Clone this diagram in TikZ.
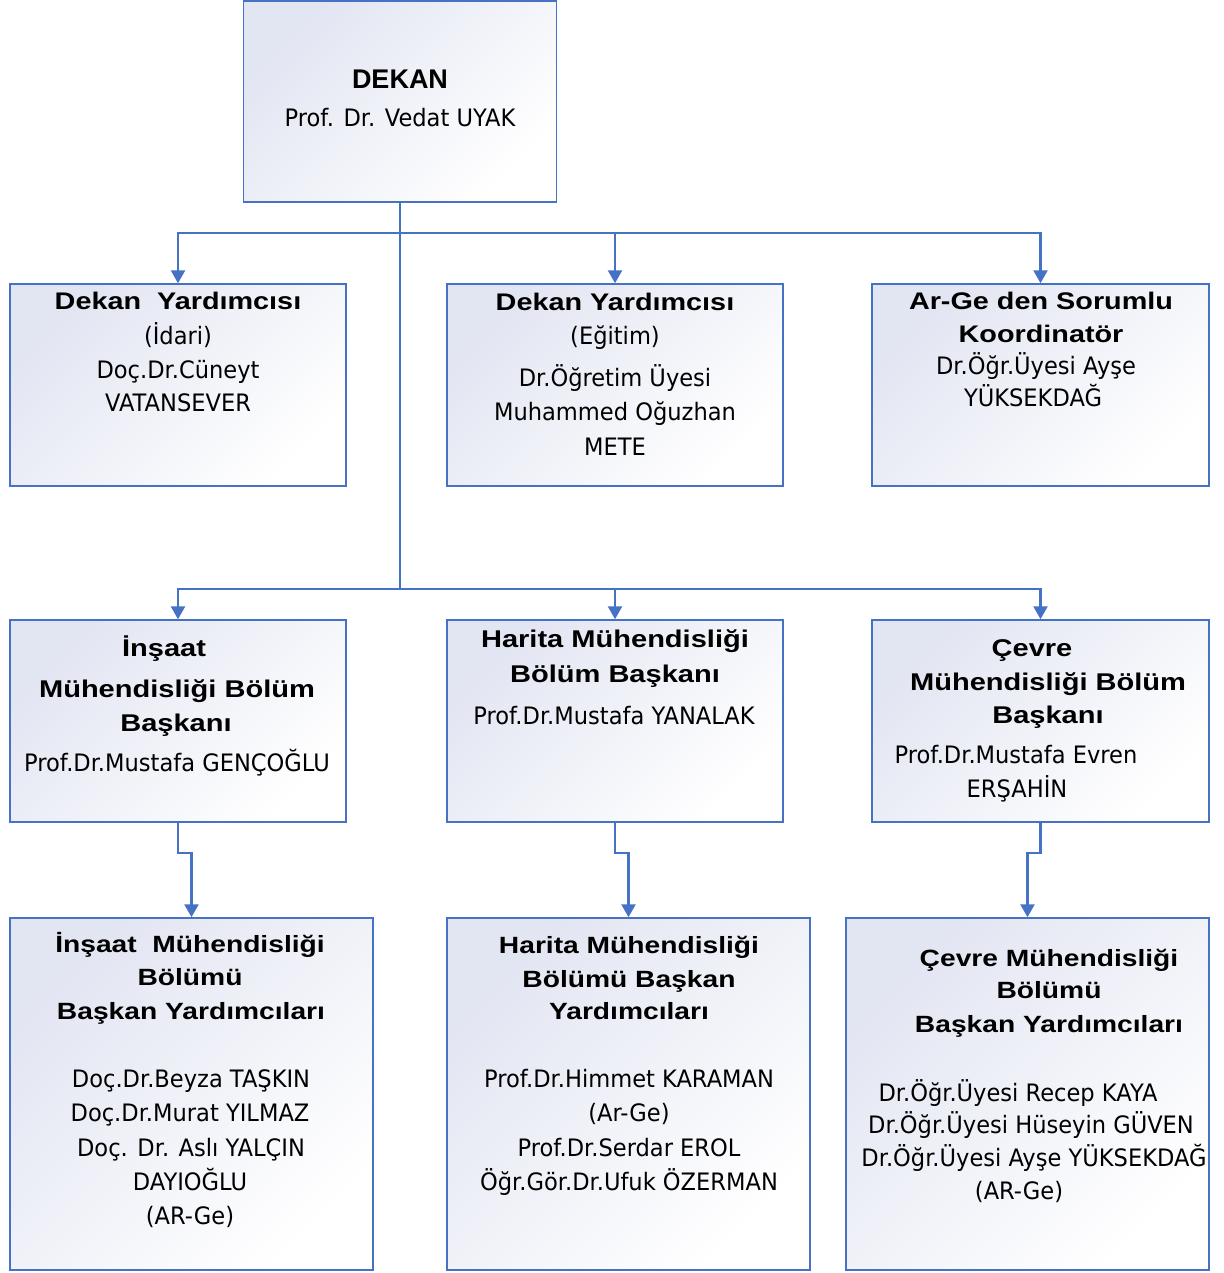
\documentclass[tikz,border=0pt]{standalone}
\usepackage{fontspec}
\setmainfont{DejaVu Sans}[FakeStretch=0.94]
\newfontfamily\hbf{Liberation Sans}[FakeStretch=1.2]
\newfontfamily\dkf{Liberation Sans}
\usetikzlibrary{arrows.meta}
\definecolor{ob}{HTML}{4472C4}
\definecolor{lav}{HTML}{E2E5F2}
\tikzset{
  box/.style={draw=ob, line width=1.5pt, top color=lav, bottom color=white, shading angle=45, inner sep=0},
  ln/.style={draw=ob, line width=2.5pt},
  arr/.style={ln, -{Triangle[width=14pt,length=13pt]}},
  rg/.style={font=\fontsize{24}{28}\selectfont, anchor=base, inner sep=0},
  hA/.style={font={\hbf\bfseries\fontsize{24}{28}\selectfont}, anchor=base, inner sep=0},
  hB/.style={font={\hbf\bfseries\fontsize{24.2}{29}\selectfont}, anchor=base, inner sep=0},
  hC/.style={font={\hbf\bfseries\fontsize{23.5}{28}\selectfont}, anchor=base, inner sep=0},
  hD/.style={font={\dkf\bfseries\fontsize{27}{31}\selectfont}, anchor=base, inner sep=0},
}
\begin{document}
\begin{tikzpicture}[x=1pt,y=-1pt]
\useasboundingbox (0,0) rectangle (1223,1273);
% boxes
\node[box, minimum width=313pt, minimum height=201pt] (dekan) at (400,101.5) {};
\node[box, minimum width=336pt, minimum height=202pt] (dy1) at (178,385) {};
\node[box, minimum width=336pt, minimum height=202pt] (dy2) at (615,385) {};
\node[box, minimum width=337pt, minimum height=202pt] (arge) at (1040.5,385) {};
\node[box, minimum width=336pt, minimum height=202pt] (ib) at (178,721) {};
\node[box, minimum width=336pt, minimum height=202pt] (hb) at (615,721) {};
\node[box, minimum width=337pt, minimum height=202pt] (cb) at (1040.5,721) {};
\node[box, minimum width=363pt, minimum height=352pt] (iby) at (191.5,1094) {};
\node[box, minimum width=363pt, minimum height=352pt] (hby) at (628.5,1094) {};
\node[box, minimum width=363pt, minimum height=352pt] (cby) at (1027.5,1094) {};
% connectors
\coordinate (j1) at (400,233);
\coordinate (j2) at (400,589);
\draw[ln] (dekan.south) -- (j2);
\draw[arr] (j1) -| (dy1.north);
\draw[arr] (j1) -| (dy2.north);
\draw[arr] (j1) -| (arge.north);
\draw[arr] (j2) -| (ib.north);
\draw[arr] (j2) -| (hb.north);
\draw[arr] (j2) -| (cb.north);
\draw[arr] (ib.south) -- ++(0,30) -| (iby.north);
\draw[arr] (hb.south) -- ++(0,30) -| (hby.north);
\draw[arr] (cb.south) -- ++(0,30) -| (cby.north);
% texts: dekan
\node[hD] (t01) at (400,89) {DEKAN};
\node[rg] (t02) at (400,127) {Prof. Dr. Vedat UYAK};
% dy1
\node[hA] (t11) at (178,309) {Dekan\ \ Yardımcısı};
\node[rg] (t12) at (178,344) {(İdari)};
\node[rg] (t13) at (178,378) {Doç.Dr.Cüneyt};
\node[rg] (t14) at (178,411) {VATANSEVER};
% dy2
\node[hA] (t21) at (615,310) {Dekan Yardımcısı};
\node[rg] (t22) at (615,344) {(Eğitim)};
\node[rg] (t23) at (615,386) {Dr.Öğretim Üyesi};
\node[rg] (t24) at (615,420) {Muhammed Oğuzhan};
\node[rg] (t25) at (615,455) {METE};
% arge
\node[hA] (t31) at (1041,309) {Ar-Ge den Sorumlu};
\node[hA] (t32) at (1041,342) {Koordinatör};
\node[rg] (t33) at (1036,374) {Dr.Öğr.Üyesi Ayşe};
\node[rg] (t34) at (1033,406) {YÜKSEKDAĞ};
% ib
\node[hB] (t41) at (164,656) {İnşaat};
\node[hB] (t42) at (177,697) {Mühendisliği Bölüm};
\node[hB] (t43) at (176,731) {Başkanı};
\node[rg] (t44) at (177,771) {Prof.Dr.Mustafa GENÇOĞLU};
% hb
\node[hB] (t51) at (615,647) {Harita Mühendisliği};
\node[hB] (t52) at (615,682) {Bölüm Başkanı};
\node[rg] (t53) at (614,724) {Prof.Dr.Mustafa YANALAK};
% cb
\node[hB] (t61) at (1032,656) {Çevre};
\node[hB] (t62) at (1048,690) {Mühendisliği Bölüm};
\node[hB] (t63) at (1048,723) {Başkanı};
\node[rg] (t64) at (1016,763) {Prof.Dr.Mustafa Evren};
\node[rg] (t65) at (1017,797) {ERŞAHİN};
% iby
\node[hC] (t71) at (190,952) {İnşaat\ \ Mühendisliği};
\node[hC] (t72) at (190,985) {Bölümü};
\node[hC] (t73) at (191,1019) {Başkan Yardımcıları};
\node[rg] (t74) at (191,1087) {Doç.Dr.Beyza TAŞKIN};
\node[rg] (t75) at (190,1121) {Doç.Dr.Murat YILMAZ};
\node[rg] (t76) at (191,1156) {Doç. Dr. Aslı YALÇIN};
\node[rg] (t77) at (190,1190) {DAYIOĞLU};
\node[rg] (t78) at (190,1224) {(AR-Ge)};
% hby
\node[hC] (t81) at (629,953) {Harita Mühendisliği};
\node[hC] (t82) at (629,987) {Bölümü Başkan};
\node[hC] (t83) at (629,1019) {Yardımcıları};
\node[rg] (t84) at (629,1087) {Prof.Dr.Himmet KARAMAN};
\node[rg] (t85) at (629,1121) {(Ar-Ge)};
\node[rg] (t86) at (629,1156) {Prof.Dr.Serdar EROL};
\node[rg] (t87) at (629,1190) {Öğr.Gör.Dr.Ufuk ÖZERMAN};
% cby
\node[hC] (t91) at (1049,966) {Çevre Mühendisliği};
\node[hC] (t92) at (1049,998) {Bölümü};
\node[hC] (t93) at (1049,1032) {Başkan Yardımcıları};
\node[rg] (t94) at (1018,1101) {Dr.Öğr.Üyesi Recep KAYA};
\node[rg] (t95) at (1031,1133) {Dr.Öğr.Üyesi Hüseyin GÜVEN};
\node[rg] (t96) at (1034,1166) {Dr.Öğr.Üyesi Ayşe YÜKSEKDAĞ};
\node[rg] (t97) at (1019,1199) {(AR-Ge)};
\end{tikzpicture}
\end{document}
